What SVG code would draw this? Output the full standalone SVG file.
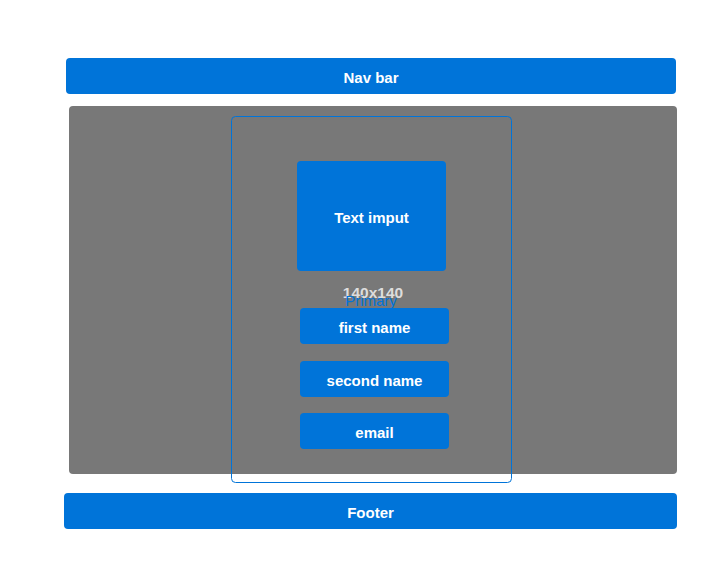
<svg xmlns="http://www.w3.org/2000/svg" width="717" height="578" viewBox="0 0 717 578">
<style>
.blue{fill:#0074d9}
.lbl{font-family:"Liberation Sans",Arial,sans-serif;font-size:15px;font-weight:bold;fill:#ffffff;text-anchor:middle;dominant-baseline:central}
</style>
<rect width="717" height="578" fill="#ffffff"/>
<g id="navbar"><rect class="blue" x="66" y="58" width="610" height="36" rx="4"/><text class="lbl" x="371" y="77">Nav bar</text></g>
<g id="main"><rect x="69" y="106" width="608" height="368" rx="4" fill="#787878"/></g>
<g id="form"><rect x="231.5" y="116.5" width="280" height="366" rx="4" fill="none" stroke="#0074d9" stroke-width="1"/></g>
<g id="textinput"><rect class="blue" x="297" y="161" width="149" height="110" rx="4"/><text class="lbl" x="371.5" y="217">Text imput</text></g>
<g id="size-label"><text x="373" y="292" font-family="'Liberation Sans',Arial,sans-serif" font-size="15.5" font-weight="bold" fill="#dddddd" text-anchor="middle" dominant-baseline="central">140x140</text>
<text x="371" y="300" font-family="'Liberation Sans',Arial,sans-serif" font-size="15" fill="#0074d9" text-anchor="middle" dominant-baseline="central">Primary</text></g>
<g id="firstname"><rect class="blue" x="300" y="308" width="149" height="36" rx="4"/><text class="lbl" x="374.5" y="327">first name</text></g>
<g id="secondname"><rect class="blue" x="300" y="361" width="149" height="36" rx="4"/><text class="lbl" x="374.5" y="380">second name</text></g>
<g id="email"><rect class="blue" x="300" y="413" width="149" height="36" rx="4"/><text class="lbl" x="374.5" y="432">email</text></g>
<g id="footer"><rect class="blue" x="64" y="493" width="613" height="36" rx="4"/><text class="lbl" x="370.5" y="512">Footer</text></g>
<g id="connectors"></g>
</svg>
